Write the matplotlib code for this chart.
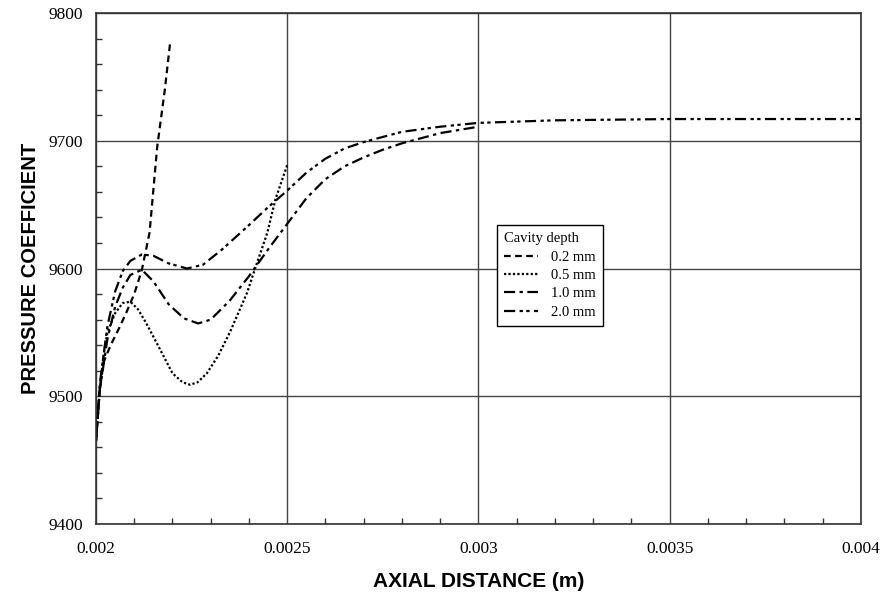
import matplotlib
matplotlib.use("Agg")
import matplotlib.pyplot as plt
from matplotlib.ticker import MultipleLocator

# ---- data ----
x_02 = [0.002, 0.00201, 0.00202, 0.00204, 0.00206, 0.00208, 0.0021, 0.00212, 0.00214,
        0.00216, 0.00218, 0.002194]
y_02 = [9465, 9505, 9527, 9541, 9553, 9566, 9580, 9599, 9628, 9695, 9740, 9777]

x_05 = [0.002, 0.00201, 0.00202, 0.00203, 0.00205, 0.00207, 0.00209, 0.00211, 0.00213,
        0.00216, 0.0022, 0.002226, 0.002246, 0.002266, 0.00229, 0.00232, 0.00235,
        0.002395, 0.002416, 0.002448, 0.002469, 0.0025]
y_05 = [9465, 9505, 9533, 9550, 9565, 9573, 9574, 9568, 9558, 9541, 9518, 9511, 9509,
        9511, 9518, 9532, 9550, 9581, 9600, 9628, 9654, 9681]

x_10 = [0.002, 0.00201, 0.00203, 0.00205, 0.00207, 0.00209, 0.00212, 0.00215, 0.00219,
        0.00223, 0.002267, 0.0023, 0.00235, 0.0024, 0.00245, 0.0025, 0.00255, 0.0026,
        0.00265, 0.0027, 0.00275, 0.0028, 0.0029, 0.003]
y_10 = [9465, 9505, 9545, 9570, 9585, 9595, 9599, 9590, 9572, 9561, 9557, 9560, 9575,
        9594, 9615, 9635, 9655, 9670, 9680, 9687, 9693, 9698, 9706, 9711]

x_20 = [0.002, 0.00201, 0.00203, 0.00205, 0.00207, 0.00209, 0.00212, 0.00215, 0.00219,
        0.002238, 0.00228, 0.00233, 0.0024, 0.00245, 0.0025, 0.00255, 0.0026, 0.00265,
        0.0027, 0.00275, 0.0028, 0.0029, 0.003, 0.0032, 0.0035, 0.004]
y_20 = [9465, 9510, 9555, 9582, 9598, 9606, 9611, 9610, 9604, 9600, 9603, 9615, 9634,
        9648, 9661, 9675, 9686, 9694, 9699, 9703, 9707, 9711, 9714, 9716, 9717, 9717]

labels = ["0.2 mm", "0.5 mm", "1.0 mm", "2.0 mm"]
x_ticks = [0.002, 0.0025, 0.003, 0.0035, 0.004]
x_ticklabels = ["0.002", "0.0025", "0.003", "0.0035", "0.004"]
y_ticks = [9400, 9500, 9600, 9700, 9800]

fig = plt.figure(figsize=(8.92, 5.94), dpi=100)
ax = fig.add_axes([0.1076, 0.1178, 0.8576, 0.8603])

serif = "Liberation Serif"
sans = "Liberation Sans"

styles = [(0, (3, 2)), (0, (1, 1)), (0, (5, 2, 1.5, 2)), (0, (5, 2, 1.5, 1.5, 1.5, 2))]
for xs, ys, lab, ls in zip([x_02, x_05, x_10, x_20], [y_02, y_05, y_10, y_20], labels, styles):
    ax.plot(xs, ys, color="black", lw=1.6, linestyle=ls, label=lab)

ax.set_xlim(0.002, 0.004)
ax.set_ylim(9400, 9800)
ax.set_xticks(x_ticks)
ax.set_xticklabels(x_ticklabels)
ax.set_yticks(y_ticks)
ax.xaxis.set_minor_locator(MultipleLocator(0.0001))
ax.yaxis.set_minor_locator(MultipleLocator(20))
ax.tick_params(which="major", length=0)
ax.tick_params(axis="x", which="major", pad=12)
ax.tick_params(axis="y", which="major", pad=9.5)
ax.tick_params(which="minor", direction="in", length=4.5, width=1, color="#333333")
for lab in ax.get_xticklabels() + ax.get_yticklabels():
    lab.set_fontfamily(serif)
    lab.set_fontsize(12.5)

ax.grid(True, which="major", color="#444444", lw=1.0)
for sp in ax.spines.values():
    sp.set_color("#333333")
    sp.set_linewidth(1.2)

ax.set_xlabel("AXIAL DISTANCE (m)", fontfamily=sans, fontweight="bold", fontsize=15, labelpad=11)
ax.set_ylabel("PRESSURE COEFFICIENT", fontfamily=sans, fontweight="bold", fontsize=14.5, labelpad=6)

leg = ax.legend(loc="upper left", bbox_to_anchor=(0.524, 0.585), borderaxespad=0,
                title="Cavity depth",
                prop={"family": serif, "size": 10.5}, frameon=True, fancybox=False,
                edgecolor="black", handlelength=2.3, borderpad=0.5, labelspacing=0.35,
                handletextpad=0.9, alignment="left")
leg.get_title().set_fontfamily(serif)
leg.get_title().set_fontsize(10.5)
leg.get_frame().set_linewidth(1.0)
leg.get_frame().set_alpha(1)

fig.savefig("out.png", dpi=100)
